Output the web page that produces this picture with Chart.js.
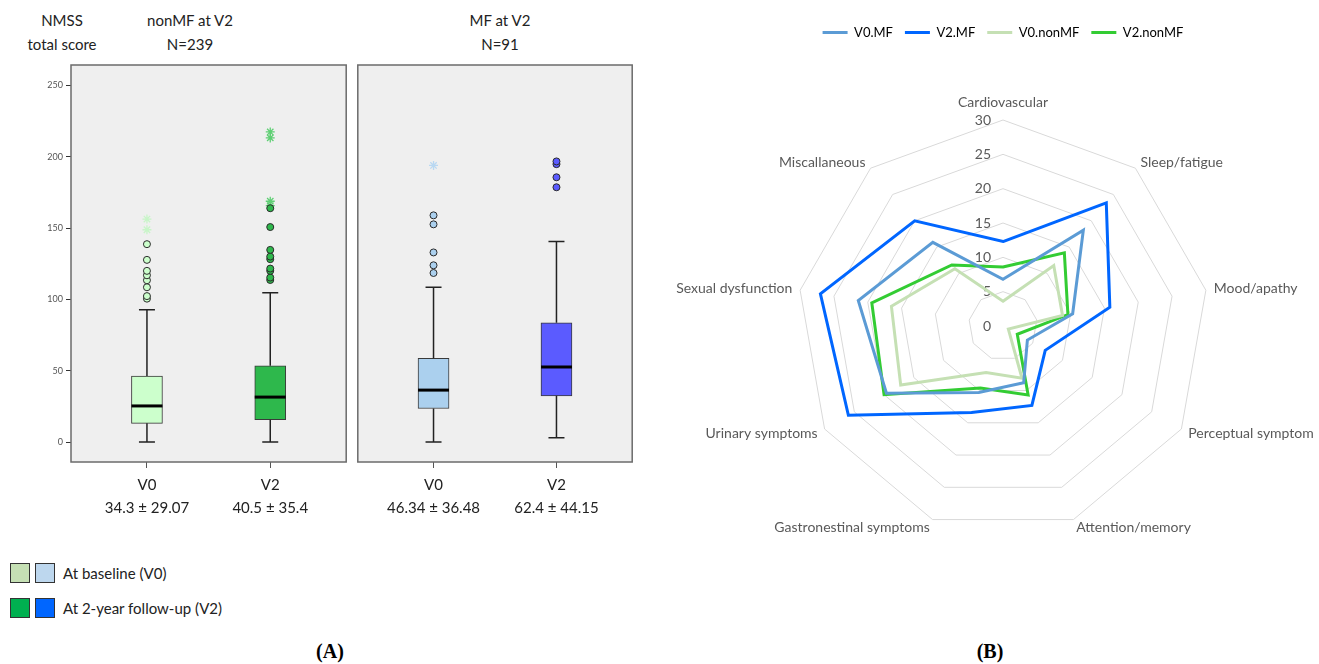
<!DOCTYPE html>
<html>
<head>
<meta charset="utf-8">
<title>NMSS</title>
<script src="https://cdn.jsdelivr.net/npm/chart.js@4.4.1/dist/chart.umd.min.js"></script>
<style>
  body { margin: 0; background: #fff; font-family: Lato, "Open Sans", sans-serif; }
  #page { position: relative; width: 1319px; height: 664px; overflow: hidden; }
  canvas { position: absolute; }
  .txt { position: absolute; width: 200px; text-align: center; color: #222; font-size: 15px; line-height: 24px; white-space: nowrap; }
  .sq { position: absolute; width: 18px; height: 18px; border: 1px solid #333; }
  .leg { position: absolute; left: 63px; color: #222; font-size: 15px; line-height: 20px; white-space: nowrap; }
  .tag { position: absolute; width: 60px; text-align: center; font-family: "Liberation Serif", serif; font-weight: bold; font-size: 20px; color: #000; }
</style>
</head>
<body>
<div id="page">
  <div class="txt" style="left:-38px; top:8px;">NMSS<br>total score</div>
  <div class="txt" style="left:90px; top:8px;">nonMF at V2<br>N=239</div>
  <div class="txt" style="left:400px; top:8px;">MF at V2<br>N=91</div>

  <canvas id="boxNonMF" width="352" height="540" style="left:0; top:0;"></canvas>
  <canvas id="boxMF" width="286" height="540" style="left:352px; top:0;"></canvas>

  <div class="sq" style="left:10px; top:563px; background:#c5e0b4;"></div>
  <div class="sq" style="left:35px; top:563px; background:#bdd7ee;"></div>
  <div class="leg" style="top:563px;">At baseline (V0)</div>
  <div class="sq" style="left:10px; top:598px; background:#00b050;"></div>
  <div class="sq" style="left:35px; top:598px; background:#0066ff;"></div>
  <div class="leg" style="top:598px;">At 2-year follow-up (V2)</div>

  <canvas id="radar" width="659" height="620" style="left:660px; top:0;"></canvas>

  <div class="tag" style="left:300px; top:640px;">(A)</div>
  <div class="tag" style="left:960px; top:640px;">(B)</div>
</div>

<script>
// ---- Painel A: NMSS total score (boxplots) ----
var boxLabels = ['V0', 'V2'];
var yTicks = [0, 50, 100, 150, 200, 250];

var nonMFStats = ['34.3 ± 29.07', '40.5 ± 35.4'];
var nonMFMin = [0, 0];
var nonMFQ1 = [13.1, 15.7];
var nonMFMedian = [25.3, 31.5];
var nonMFQ3 = [46.3, 53.5];
var nonMFMax = [92.7, 104.7];
var nonMFOutV0 = [100.5, 102.3, 108.5, 113.4, 116.9, 120, 127.7, 138.7];
var nonMFOutV2 = [113.6, 115.3, 120, 121.6, 128.2, 130, 134.7, 150.7, 163.9];
var nonMFExtV0 = [148.8, 156.3];
var nonMFExtV2 = [165.7, 168.8, 213.2, 217.4];

var mfStats = ['46.34 ± 36.48', '62.4 ± 44.15'];
var mfMin = [0, 3];
var mfQ1 = [23.5, 32.4];
var mfMedian = [36.4, 52.6];
var mfQ3 = [58.7, 83.6];
var mfMax = [108.5, 140.6];
var mfOutV0 = [118.5, 123.9, 132.9, 152.6, 158.9];
var mfOutV2 = [178.6, 185.6, 194.8, 196.7];
var mfExtV0 = [193.9];
var mfExtV2 = [];

// ---- Painel B: dominios (radar) ----
var radarLabels = ['Cardiovascular', 'Sleep/fatigue', 'Mood/apathy', 'Perceptual symptom',
    'Attention/memory', 'Gastronestinal symptoms', 'Urinary symptoms', 'Sexual dysfunction', 'Miscallaneous'];
var v0MF = [6.8, 18.2, 10.3, 4.1, 8.8, 10.3, 19.6, 21.4, 15.9];
var v2MF = [12.3, 23.4, 15.8, 7.1, 12.3, 13.4, 26.0, 27.0, 20.0];
var v0nonMF = [3.6, 11.5, 8.8, 0.9, 8.1, 7.2, 17.2, 16.5, 10.9];
var v2nonMF = [8.6, 13.9, 9.6, 2.4, 10.7, 9.6, 20.0, 19.4, 11.6];


function points(values, idx) {
    return values.map(function (v) { return { x: idx, y: v }; });
}

// fundo cinza + moldura do painel
var panelFrame = {
    id: 'panelFrame',
    beforeDraw: function (chart) {
        var a = chart.chartArea, ctx = chart.ctx;
        ctx.save();
        ctx.fillStyle = '#efefef';
        ctx.fillRect(a.left, a.top, a.right - a.left, a.bottom - a.top);
        ctx.restore();
    },
    afterDraw: function (chart) {
        var a = chart.chartArea, ctx = chart.ctx;
        ctx.save();
        ctx.strokeStyle = '#6b6b6b';
        ctx.lineWidth = 1.5;
        ctx.strokeRect(a.left, a.top, a.right - a.left, a.bottom - a.top);
        ctx.restore();
    }
};

// bigodes e mediana, desenhados pelas escalas do grafico
var boxParts = {
    id: 'boxParts',
    afterDatasetsDraw: function (chart, args, opts) {
        var x = chart.scales.x, y = chart.scales.y, ctx = chart.ctx;
        ctx.save();
        for (var i = 0; i < opts.min.length; i++) {
            var px = x.getPixelForValue(i);
            ctx.strokeStyle = '#222';
            ctx.lineWidth = 1.5;
            ctx.beginPath();
            ctx.moveTo(px, y.getPixelForValue(opts.min[i]));
            ctx.lineTo(px, y.getPixelForValue(opts.q1[i]));
            ctx.moveTo(px, y.getPixelForValue(opts.q3[i]));
            ctx.lineTo(px, y.getPixelForValue(opts.max[i]));
            ctx.moveTo(px - 8, y.getPixelForValue(opts.min[i]));
            ctx.lineTo(px + 8, y.getPixelForValue(opts.min[i]));
            ctx.moveTo(px - 8, y.getPixelForValue(opts.max[i]));
            ctx.lineTo(px + 8, y.getPixelForValue(opts.max[i]));
            ctx.stroke();
            ctx.strokeStyle = '#000';
            ctx.lineWidth = 3;
            ctx.beginPath();
            ctx.moveTo(px - 15.5, y.getPixelForValue(opts.median[i]));
            ctx.lineTo(px + 15.5, y.getPixelForValue(opts.median[i]));
            ctx.stroke();
        }
        ctx.restore();
    }
};

function boxChart(id, g) {
    var ctx = document.getElementById(id).getContext('2d');
    return new Chart(ctx, {
        type: 'bar',
        data: {
            datasets: [{
                type: 'bar',
                data: [0, 1].map(function (i) { return { x: i, y: [g.q1[i], g.q3[i]] }; }),
                backgroundColor: g.fill,
                borderColor: '#3a3a3a',
                borderWidth: 1,
                borderSkipped: false,
                barThickness: 31
            }, {
                type: 'scatter',
                data: points(g.out[0], 0).concat(points(g.out[1], 1)),
                pointStyle: 'circle',
                pointRadius: 3.5,
                backgroundColor: function (c) { return g.fill[c.raw.x]; },
                borderColor: '#2b2b2b',
                borderWidth: 1
            }, {
                type: 'scatter',
                data: points(g.ext[0], 0).concat(points(g.ext[1], 1)),
                pointStyle: 'star',
                pointRadius: 4.5,
                borderColor: function (c) { return g.star[c.raw.x]; },
                borderWidth: 1.3
            }]
        },
        options: {
            responsive: false,
            animation: false,
            layout: { padding: { top: 65, right: g.padRight, left: g.padLeft } },
            plugins: {
                legend: { display: false },
                tooltip: { enabled: false },
                boxParts: { min: g.min, q1: g.q1, median: g.median, q3: g.q3, max: g.max }
            },
            scales: {
                x: {
                    type: 'linear',
                    min: -0.616,
                    max: 1.616,
                    offset: false,
                    afterBuildTicks: function (s) { s.ticks = [0, 1].map(function (v) { return { value: v }; }); },
                    afterFit: function (s) { s.height = 78; },
                    grid: { offset: false, drawOnChartArea: false, drawTicks: true, tickLength: 6, color: '#555' },
                    border: { display: false },
                    ticks: {
                        autoSkip: false,
                        maxRotation: 0,
                        padding: 6,
                        color: '#222',
                        font: { family: 'Lato', size: 15, lineHeight: 1.5 },
                        callback: function (v) { return [boxLabels[v], g.stats[v]]; }
                    }
                },
                y: {
                    display: g.showY,
                    min: -14,
                    max: 264.3,
                    afterBuildTicks: function (s) { s.ticks = yTicks.map(function (v) { return { value: v }; }); },
                    afterFit: function (s) { s.width = g.showY ? 71 : 0; },
                    grid: { drawOnChartArea: false, drawTicks: true, tickLength: 5, color: '#333' },
                    border: { display: false },
                    ticks: { padding: 3, color: '#555', font: { family: 'Lato', size: 9 } }
                }
            }
        },
        plugins: [panelFrame, boxParts]
    });
}

boxChart('boxNonMF', {
    stats: nonMFStats, min: nonMFMin, q1: nonMFQ1, median: nonMFMedian, q3: nonMFQ3, max: nonMFMax,
    out: [nonMFOutV0, nonMFOutV2], ext: [nonMFExtV0, nonMFExtV2],
    fill: ['#ccffcc', '#2eb84c'], star: ['#c8f5c8', '#5fcf74'],
    showY: true, padLeft: 0, padRight: 3
});

boxChart('boxMF', {
    stats: mfStats, min: mfMin, q1: mfQ1, median: mfMedian, q3: mfQ3, max: mfMax,
    out: [mfOutV0, mfOutV2], ext: [mfExtV0, mfExtV2],
    fill: ['#abd0ee', '#5b5bff'], star: ['#b9d8f2', '#7a7aff'],
    showY: false, padLeft: 4, padRight: 4
});


// textos do radar (rotulos dos eixos e valores da escala)
var radarText = {
    id: 'radarText',
    beforeDatasetsDraw: function (chart) {
        var r = chart.scales.r, ctx = chart.ctx;
        ctx.save();
        ctx.fillStyle = '#595959';
        ctx.font = '14px Lato';
        ctx.textAlign = 'right';
        ctx.textBaseline = 'middle';
        r.ticks.forEach(function (t) {
            ctx.fillText(String(t.value), r.xCenter - 12, r.yCenter - r.getDistanceFromCenterForValue(t.value));
        });
        ctx.restore();
    },
    afterDraw: function (chart) {
        var r = chart.scales.r, ctx = chart.ctx;
        ctx.save();
        ctx.fillStyle = '#595959';
        ctx.font = '14px Lato';
        ctx.textBaseline = 'middle';
        radarLabels.forEach(function (lbl, i) {
            var p = r.getPointPosition(i, r.drawingArea + 8);
            var dx = p.x - r.xCenter;
            var top = Math.abs(dx) < 1;
            ctx.textAlign = top ? 'center' : (dx > 0 ? 'left' : 'right');
            ctx.fillText(lbl, p.x, top ? p.y - 10 : p.y);
        });
        ctx.restore();
    }
};

var radarCtx = document.getElementById('radar').getContext('2d');
new Chart(radarCtx, {
    type: 'radar',
    data: {
        labels: radarLabels,
        datasets: [
            { label: 'V0.MF', data: v0MF, borderColor: '#5b9bd5' },
            { label: 'V2.MF', data: v2MF, borderColor: '#0066ff' },
            { label: 'V0.nonMF', data: v0nonMF, borderColor: '#c5e0b4' },
            { label: 'V2.nonMF', data: v2nonMF, borderColor: '#33cc33' }
        ]
    },
    options: {
        responsive: false,
        animation: false,
        layout: { padding: { left: 137, right: 110, top: 14, bottom: 17 } },
        elements: {
            line: { borderWidth: 3, tension: 0, fill: false, backgroundColor: 'transparent' },
            point: { radius: 0, hoverRadius: 0 }
        },
        scales: {
            r: {
                min: 0,
                max: 30,
                ticks: { stepSize: 5, display: false },
                grid: { color: '#d9d9d9', lineWidth: 1 },
                angleLines: { display: false },
                pointLabels: { display: false }
            }
        },
        plugins: {
            tooltip: { enabled: false },
            legend: {
                position: 'top',
                labels: {
                    boxWidth: 25,
                    boxHeight: 3,
                    padding: 12,
                    color: '#595959',
                    font: { family: 'Lato', size: 13 },
                    generateLabels: function (chart) {
                        return chart.data.datasets.map(function (ds, i) {
                            return { text: ds.label, fillStyle: ds.borderColor, strokeStyle: ds.borderColor, lineWidth: 0, datasetIndex: i, hidden: false };
                        });
                    }
                }
            }
        }
    },
    plugins: [radarText]
});
</script>
</body>
</html>
